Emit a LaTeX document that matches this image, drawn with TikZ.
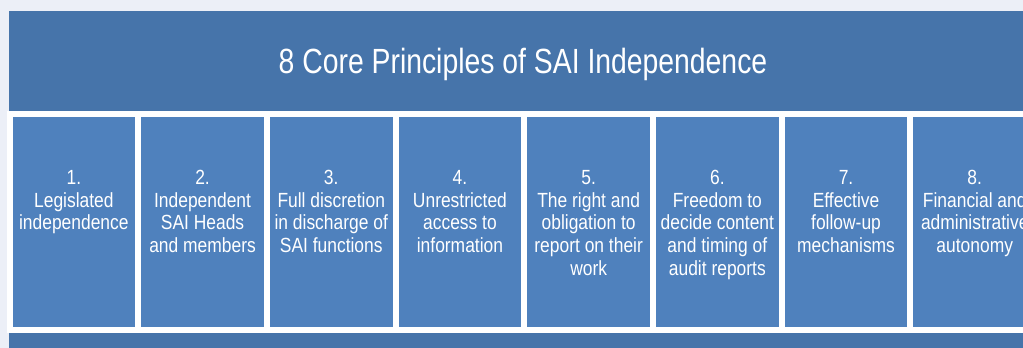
\documentclass[tikz,border=0pt]{standalone}
\usepackage{fontspec}
\setmainfont{Liberation Sans}[FakeStretch=0.85]
\newfontfamily\headfont{Liberation Sans}[FakeStretch=0.81]
\usetikzlibrary{positioning}

\definecolor{bgpale}{RGB}{236,239,247}
\definecolor{banddark}{RGB}{70,116,170}
\definecolor{boxblue}{RGB}{79,129,189}

\tikzset{
  pbox/.style={rectangle, fill=boxblue, draw=white, line width=6pt,
    minimum width=128.7pt, minimum height=215.5pt, inner sep=0pt, outer sep=0pt},
  ptext/.style={text=white, align=center, inner sep=0pt,
    font=\fontsize{20.5}{22.7}\selectfont}
}

\begin{document}
\begin{tikzpicture}[x=1pt, y=-1pt]
  \useasboundingbox (0,0) rectangle (1023,348);
  \clip (0,0) rectangle (1023,348);
  \fill[bgpale] (0,0) rectangle (1023,348);
  \fill[banddark] (9,11) rectangle (1023,348);

  % heading
  \node[text=white, font=\headfont\fontsize{35}{40}\selectfont, anchor=base] (title)
    at (523,73) {8 Core Principles of SAI Independence};

  % the eight principle boxes, side by side
  \node[pbox] (p1) at (73.85,221.75) {};
  \node[pbox, right=0pt of p1] (p2) {};
  \node[pbox, right=0pt of p2] (p3) {};
  \node[pbox, right=0pt of p3] (p4) {};
  \node[pbox, right=0pt of p4] (p5) {};
  \node[pbox, right=0pt of p5] (p6) {};
  \node[pbox, right=0pt of p6] (p7) {};
  \node[pbox, right=0pt of p7] (p8) {};

  % their texts, hung from the top edge
  \node[ptext, below=56pt of p1.north] (t1) {1.\\Legislated\\independence};
  \node[ptext, below=56pt of p2.north] (t2) {2.\\Independent\\SAI Heads\\and members};
  \node[ptext, below=56pt of p3.north] (t3) {3.\\Full discretion\\in discharge of\\SAI functions};
  \node[ptext, below=56pt of p4.north] (t4) {4.\\Unrestricted\\access to\\information};
  \node[ptext, below=56pt of p5.north] (t5) {5.\\The right and\\obligation to\\report on their\\work};
  \node[ptext, below=56pt of p6.north] (t6) {6.\\Freedom to\\decide content\\and timing of\\audit reports};
  \node[ptext, below=56pt of p7.north] (t7) {7.\\Effective\\follow-up\\mechanisms};
  \node[ptext, below=56pt of p8.north] (t8) {8.\\Financial and\\administrative\\autonomy};
\end{tikzpicture}
\end{document}
